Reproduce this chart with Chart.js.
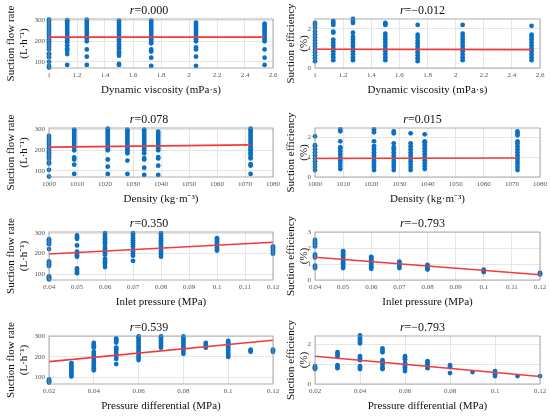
<!DOCTYPE html>
<html>
<head>
<meta charset="utf-8">
<script src="https://cdn.jsdelivr.net/npm/chart.js@4/dist/chart.umd.min.js"></script>
<style>
  body { margin: 0; background: #fff; }
  #fig { position: relative; width: 550px; height: 416px; overflow: hidden; background: #fff; }
  #fig canvas { position: absolute; }
</style>
</head>
<body>
<div id="fig"></div>
<script>
// x categories of the four experiments
const viscosity = [1, 1.13, 1.27, 1.5, 1.73, 2.05, 2.54];
const density = [1000, 1009, 1021, 1028, 1034, 1039, 1072];
const inletPressure = [0.04, 0.05, 0.06, 0.07, 0.08, 0.1, 0.12];
const pressureDiff = [0.02, 0.03, 0.04, 0.05, 0.06, 0.07, 0.08, 0.09, 0.1, 0.11, 0.12];

// measured values, one list per x category
const flowVisc = [
  [72, 80, 100, 122, 135, 140, 160, 172, 182, 192, 200, 210, 220, 230, 240, 250, 260, 270, 280, 290, 298, 305],
  [85, 138, 155, 165, 180, 195, 205, 215, 225, 235, 245, 255, 265, 275, 285, 295, 302],
  [85, 125, 160, 200, 215, 225, 235, 245, 255, 265, 275, 285, 295, 305],
  [85, 90, 130, 140, 150, 165, 175, 185, 200, 210, 220, 230, 240, 250, 260, 270, 280, 290, 300],
  [80, 120, 150, 160, 190, 200, 210, 220, 230, 240, 250, 260, 270, 280, 290, 300],
  [80, 125, 160, 170, 200, 210, 220, 230, 240, 250, 260, 270, 280, 290],
  [85, 120, 160, 200, 210, 220, 230, 240, 250, 260, 270, 280, 285]
];
const effVisc = [
  [0.35, 0.5, 0.65, 0.8, 0.95, 1.1, 1.25, 1.4, 1.55, 1.7, 1.85, 2.05, 2.2, 2.3],
  [0.4, 0.55, 0.7, 0.85, 1.0, 1.15, 1.3, 1.45, 1.8, 1.85, 2.2, 2.3, 2.4],
  [0.4, 0.55, 0.7, 0.85, 1.0, 1.15, 1.3, 1.45, 1.6, 1.8, 2.3, 2.4, 2.5],
  [0.4, 0.55, 0.7, 0.85, 1.0, 1.15, 1.3, 1.45, 1.6, 1.75, 2.2, 2.25, 2.3],
  [0.35, 0.5, 0.65, 0.8, 0.95, 1.1, 1.25, 1.4, 1.55, 1.7, 2.2],
  [0.4, 0.55, 0.7, 0.85, 1.0, 1.15, 1.3, 1.45, 1.6, 1.75, 2.2],
  [0.4, 0.55, 0.7, 0.85, 1.0, 1.15, 1.3, 1.45, 1.6, 1.7, 2.15]
];
const flowDens = [
  [72, 105, 135, 142, 160, 170, 180, 190, 200, 210, 220, 230, 240, 250, 260, 270],
  [85, 130, 155, 165, 200, 215, 225, 235, 245, 255, 265, 275, 285, 295, 300],
  [85, 120, 155, 200, 210, 220, 230, 240, 250, 260, 270, 280, 290, 300, 305],
  [85, 150, 185, 195, 205, 215, 225, 235, 245, 255, 265, 275, 285, 295, 300],
  [80, 115, 155, 162, 185, 200, 210, 220, 230, 240, 250, 260, 270, 280, 290, 300],
  [80, 125, 160, 167, 200, 210, 220, 230, 240, 250, 260, 270, 280, 290],
  [85, 125, 132, 160, 167, 180, 190, 200, 210, 220, 230, 240, 250, 260, 270, 280, 290, 300, 305]
];
const effDens = [
  [0.35, 0.5, 0.65, 0.8, 0.95, 1.1, 1.25, 1.4, 1.55, 1.6, 2.05],
  [0.4, 0.55, 0.7, 0.85, 1.0, 1.15, 1.3, 1.45, 1.5, 1.8, 2.3, 2.4],
  [0.35, 0.5, 0.65, 0.8, 0.95, 1.1, 1.25, 1.4, 1.55, 1.8, 2.25, 2.4],
  [0.35, 0.5, 0.65, 0.8, 0.95, 1.1, 1.25, 1.4, 1.5, 1.7, 2.2, 2.3],
  [0.35, 0.5, 0.65, 0.8, 0.95, 1.1, 1.25, 1.4, 1.55, 1.7, 2.2],
  [0.4, 0.55, 0.7, 0.85, 1.0, 1.15, 1.3, 1.45, 1.6, 1.75, 1.8, 2.15],
  [0.35, 0.5, 0.65, 0.8, 0.95, 1.1, 1.25, 1.4, 1.55, 1.7, 1.8, 2.1, 2.2, 2.3]
];
const flowInlet = [
  [75, 80, 85, 90, 140, 148, 155, 162, 222, 245, 252, 258, 265, 270],
  [105, 112, 120, 128, 185, 192, 200, 210, 240, 272, 280, 288],
  [135, 150, 158, 165, 175, 195, 205, 215, 225, 235, 250, 260, 270, 280, 290, 300],
  [165, 190, 200, 210, 220, 235, 245, 255, 265, 275, 285, 295, 300],
  [185, 195, 205, 215, 225, 235, 245, 255, 265, 275, 285, 295, 300],
  [215, 222, 230, 238, 245, 252, 260, 268, 275],
  [200, 208, 215, 222, 230, 235]
];
const effInlet = [
  [0.75, 0.82, 0.9, 1.4, 1.5, 1.6, 2.1, 2.2, 2.3, 2.4, 2.5],
  [0.75, 0.85, 0.95, 1.05, 1.15, 1.25, 1.35, 1.45, 1.55, 1.65, 1.75, 1.8],
  [0.7, 0.8, 0.9, 1.0, 1.1, 1.2, 1.3, 1.4, 1.45],
  [0.75, 0.85, 0.95, 1.05, 1.15],
  [0.65, 0.75, 0.85, 0.95],
  [0.5, 0.58, 0.65],
  [0.35, 0.4, 0.45]
];
const flowDiff = [
  [75, 80, 85, 90],
  [105, 115, 125, 135, 145, 155, 165, 170],
  [135, 145, 155, 165, 175, 185, 195, 205, 215, 225, 245, 252, 260, 268],
  [165, 190, 200, 210, 220, 230, 240, 245, 270, 278, 285, 290],
  [185, 195, 205, 215, 225, 235, 245, 255, 265, 275, 285, 295, 300],
  [245, 255, 265, 275, 285, 295, 300],
  [215, 225, 235, 245, 250, 260, 270, 280, 290, 300],
  [245, 252, 260, 268],
  [200, 210, 220, 230, 240, 250, 258, 265, 272, 278],
  [225, 230, 235],
  [225, 230, 235]
];
const effDiff = [
  [0.75, 0.8, 0.85, 0.9],
  [0.8, 0.88, 0.95, 1.4, 1.5, 1.6],
  [0.75, 0.82, 0.9, 1.2, 1.3, 1.4, 2.05, 2.15, 2.25, 2.35, 2.45],
  [0.75, 0.8, 0.85, 1.0, 1.1, 1.2, 1.6, 1.7, 1.8],
  [0.65, 0.75, 0.85, 0.95, 1.05, 1.25, 1.32, 1.4],
  [0.8, 0.9, 1.0, 1.1, 1.15],
  [0.55, 0.85, 0.95],
  [0.6],
  [0.4, 0.48, 0.56, 0.65],
  [0.4],
  [0.4]
];

// fitted lines: value at first and last x category
const fitFlowVisc = [220, 220];
const fitEffVisc = [0.96, 0.94];
const fitFlowDens = [215, 226];
const fitEffDens = [0.93, 0.96];
const fitFlowInlet = [198, 255];
const fitEffInlet = [1.42, 0.33];
const fitFlowDiff = [177, 281];
const fitEffDiff = [1.4, 0.38];

// tick labels
const viscTicks = [1, 1.2, 1.4, 1.6, 1.8, 2, 2.2, 2.4, 2.6];
const densTicks = [1000, 1010, 1020, 1030, 1040, 1050, 1060, 1070, 1080];
const inletTicks = [0.04, 0.05, 0.06, 0.07, 0.08, 0.09, 0.1, 0.11, 0.12];
const diffTicks = [0.02, 0.04, 0.06, 0.08, 0.1, 0.12];
const flowTicks = [100, 200, 300];
const effTicks = [0, 1, 2];
const effTicks3 = [0, 1, 2, 3];

const SERIF = '"Liberation Serif", "Times New Roman", serif';
const BLUE = '#0b6fc2';
const RED = '#f23a3a';

// box around plot area + "r=..." title
const framePlugin = {
  id: 'frame',
  afterDraw(chart, args, opts) {
    const {ctx, chartArea: a} = chart;
    ctx.save();
    ctx.strokeStyle = '#9a9a9a';
    ctx.lineWidth = 0.8;
    ctx.strokeRect(a.left, a.top, a.right - a.left, a.bottom - a.top);
    ctx.fillStyle = '#111';
    ctx.textBaseline = 'alphabetic';
    ctx.font = 'italic 12px ' + SERIF;
    const w1 = ctx.measureText('r').width;
    ctx.font = '12px ' + SERIF;
    const w2 = ctx.measureText(opts.text).width;
    const x0 = (a.left + a.right) / 2 + opts.shift - (w1 + w2) / 2;
    const y = a.top - 5;
    ctx.font = 'italic 12px ' + SERIF;
    ctx.fillText('r', x0, y);
    ctx.font = '12px ' + SERIF;
    ctx.fillText(opts.text, x0 + w1, y);
    ctx.restore();
  }
};

function addPanel(p) {
  const left = p.col === 0;
  const W = left ? 300 : 275;
  const H = 19 + p.plotH + 36;
  const cv = document.createElement('canvas');
  cv.width = W;
  cv.height = H;
  cv.style.left = (left ? 0 : 275) + 'px';
  cv.style.top = p.top + 'px';
  document.getElementById('fig').appendChild(cv);

  const pts = [];
  p.groups.forEach((ys, i) => ys.forEach(y => pts.push({x: p.xs[i], y: y})));
  const ends = [p.xs[0], p.xs[p.xs.length - 1]];

  new Chart(cv, {
    type: 'scatter',
    data: {
      datasets: [
        {
          type: 'line',
          data: p.fit.map((y, i) => ({x: ends[i], y: y})),
          borderColor: RED,
          borderWidth: 1.6,
          pointRadius: 0,
          order: 0
        },
        {
          data: pts,
          backgroundColor: BLUE,
          borderWidth: 0,
          pointRadius: 2.4,
          clip: false,
          order: 1
        }
      ]
    },
    options: {
      responsive: false,
      animation: false,
      events: [],
      layout: {padding: {top: 19, right: left ? 27 : 10, bottom: 0, left: 0}},
      plugins: {
        legend: {display: false},
        tooltip: {enabled: false},
        frame: {text: p.r, shift: left ? -12 : -5}
      },
      scales: {
        x: {
          type: 'linear',
          min: p.xMin,
          max: p.xMax,
          afterFit: s => { s.height = 36; },
          afterBuildTicks: s => { s.ticks = p.xTicks.map(v => ({value: v})); },
          grid: {color: '#e6e6e6', drawTicks: false},
          border: {display: false},
          ticks: {padding: 3, autoSkip: false, maxRotation: 0, color: '#555',
                  font: {family: SERIF, size: 7}, callback: v => String(v)},
          title: {display: true, text: p.xLabel, color: '#111',
                  font: {family: SERIF, size: 11}, padding: {top: 0, bottom: 7}}
        },
        y: {
          type: 'linear',
          min: p.yMin,
          max: p.yMax,
          afterFit: s => { s.width = left ? 49 : 40; },
          afterBuildTicks: s => { s.ticks = p.yTicks.map(v => ({value: v})); },
          grid: {color: '#e6e6e6', drawTicks: false},
          border: {display: false},
          ticks: {padding: 4, autoSkip: false, color: '#555',
                  font: {family: SERIF, size: 7}, callback: v => String(v)},
          title: {display: true, text: p.yLabel, color: '#111',
                  font: {family: SERIF, size: 11}, padding: {top: left ? 4.4 : 9.4, bottom: 0}}
        }
      }
    },
    plugins: [framePlugin]
  });
}

const flowLabel = ['Suction flow rate', '(L·h⁻¹)'];
const effLabel = ['Suction efficiency', '(%)'];

addPanel({col: 0, top: 0, plotH: 49, xs: viscosity, groups: flowVisc, fit: fitFlowVisc,
  xMin: 1, xMax: 2.6, xTicks: viscTicks, yMin: 70, yMax: 308, yTicks: flowTicks,
  xLabel: 'Dynamic viscosity (mPa·s)', yLabel: flowLabel, r: '=0.000'});
addPanel({col: 1, top: 0, plotH: 49, xs: viscosity, groups: effVisc, fit: fitEffVisc,
  xMin: 1, xMax: 2.6, xTicks: viscTicks, yMin: 0, yMax: 2.5, yTicks: effTicks,
  xLabel: 'Dynamic viscosity (mPa·s)', yLabel: effLabel, r: '=−0.012'});
addPanel({col: 0, top: 109, plotH: 49, xs: density, groups: flowDens, fit: fitFlowDens,
  xMin: 1000, xMax: 1080, xTicks: densTicks, yMin: 70, yMax: 308, yTicks: flowTicks,
  xLabel: 'Density (kg·m⁻³)', yLabel: flowLabel, r: '=0.078'});
addPanel({col: 1, top: 109, plotH: 49, xs: density, groups: effDens, fit: fitEffDens,
  xMin: 1000, xMax: 1080, xTicks: densTicks, yMin: 0, yMax: 2.47, yTicks: effTicks,
  xLabel: 'Density (kg·m⁻³)', yLabel: effLabel, r: '=0.015'});
addPanel({col: 0, top: 213, plotH: 48, xs: inletPressure, groups: flowInlet, fit: fitFlowInlet,
  xMin: 0.04, xMax: 0.12, xTicks: inletTicks, yMin: 72, yMax: 305, yTicks: flowTicks,
  xLabel: 'Inlet pressure (MPa)', yLabel: flowLabel, r: '=0.350'});
addPanel({col: 1, top: 213, plotH: 48, xs: inletPressure, groups: effInlet, fit: fitEffInlet,
  xMin: 0.04, xMax: 0.12, xTicks: inletTicks, yMin: 0, yMax: 3, yTicks: effTicks3,
  xLabel: 'Inlet pressure (MPa)', yLabel: effLabel, r: '=−0.793'});
addPanel({col: 0, top: 317, plotH: 48, xs: pressureDiff, groups: flowDiff, fit: fitFlowDiff,
  xMin: 0.02, xMax: 0.12, xTicks: diffTicks, yMin: 68, yMax: 302, yTicks: flowTicks,
  xLabel: 'Pressure differential (MPa)', yLabel: flowLabel, r: '=0.539'});
addPanel({col: 1, top: 317, plotH: 48, xs: pressureDiff, groups: effDiff, fit: fitEffDiff,
  xMin: 0.02, xMax: 0.12, xTicks: diffTicks, yMin: 0, yMax: 2.42, yTicks: effTicks,
  xLabel: 'Pressure differential (MPa)', yLabel: effLabel, r: '=−0.793'});
</script>
</body>
</html>
